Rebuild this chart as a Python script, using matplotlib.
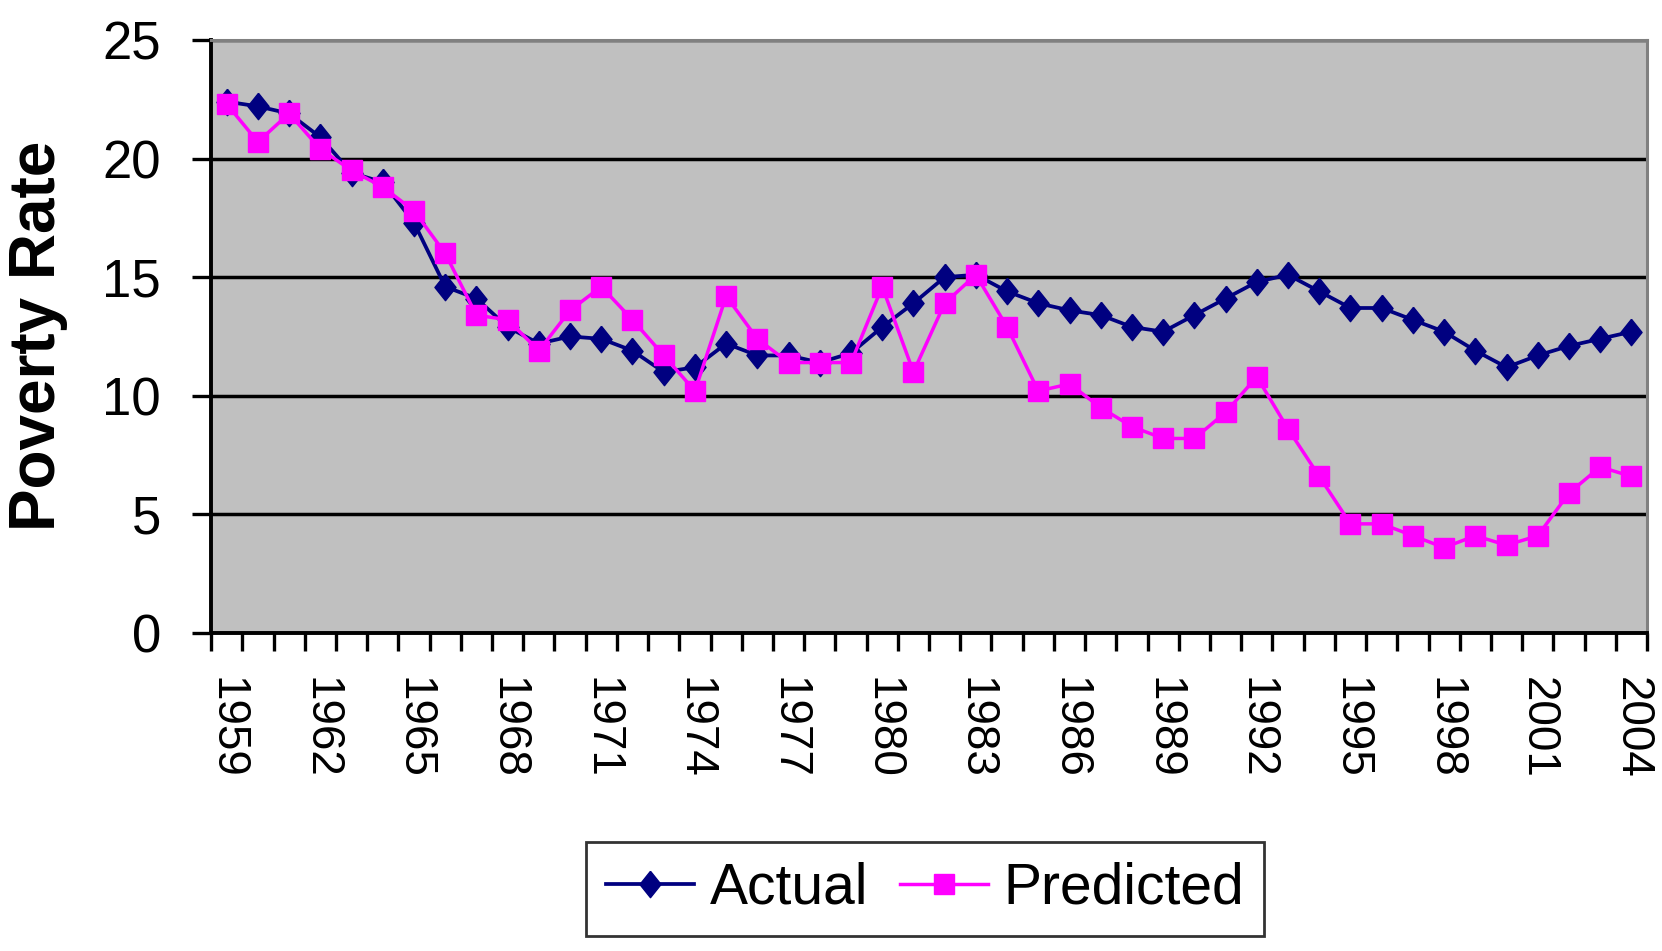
import numpy as np
import matplotlib
matplotlib.use("Agg")
import matplotlib.pyplot as plt
from matplotlib import font_manager

years = list(range(1959, 2005))

actual = [22.4, 22.2, 21.9, 20.9, 19.4, 19.0, 17.3, 14.6, 14.1, 12.9,
          12.2, 12.5, 12.4, 11.9, 11.0, 11.2, 12.2, 11.7, 11.7, 11.4,
          11.8, 12.9, 13.9, 15.0, 15.1, 14.4, 13.9, 13.6, 13.4, 12.9,
          12.7, 13.4, 14.1, 14.8, 15.1, 14.4, 13.7, 13.7, 13.2, 12.7,
          11.9, 11.2, 11.7, 12.1, 12.4, 12.7]

predicted = [22.3, 20.7, 21.9, 20.4, 19.5, 18.8, 17.8, 16.0, 13.4, 13.2,
             11.9, 13.6, 14.6, 13.2, 11.7, 10.2, 14.2, 12.4, 11.4, 11.4,
             11.4, 14.6, 11.0, 13.9, 15.1, 12.9, 10.2, 10.5, 9.5, 8.7,
             8.2, 8.2, 9.3, 10.8, 8.6, 6.6, 4.6, 4.6, 4.1, 3.6,
             4.1, 3.7, 4.1, 5.9, 7.0, 6.6]

yticks = [0, 5, 10, 15, 20, 25]

# narrow face for the legend if we have it
names = {f.name for f in font_manager.fontManager.ttflist}
narrow = "Liberation Sans Narrow" if "Liberation Sans Narrow" in names else "Liberation Sans"
leg_size = 48 if narrow == "Liberation Sans Narrow" else 41
plt.rcParams["font.family"] = "Liberation Sans"

fig = plt.figure(figsize=(16.62, 9.51), dpi=100)
ax = fig.add_axes([0.127, 0.3344, 0.864, 0.6236])
ax.set_facecolor("#C0C0C0")

x = np.arange(len(years))
diamond = [(0, 1), (0.8, 0), (0, -1), (-0.8, 0), (0, 1)]

ax.plot(x, actual, color="#000080", lw=2.7, marker=diamond, ms=19,
        mec="#000080", mfc="#000080", label="Actual", zorder=3, clip_on=False)
ax.plot(x, predicted, color="#FF00FF", lw=2.5, marker="s", ms=15,
        mec="#FF00FF", mfc="#FF00FF", label="Predicted", zorder=4, clip_on=False)

ax.set_xlim(-0.5, len(years) - 0.5)
ax.set_ylim(0, 25)

# y axis
ax.set_yticks(yticks)
ax.tick_params(axis="y", direction="out", length=14, width=2.4, pad=22,
               labelsize=38, color="black")
ax.yaxis.grid(True, color="black", lw=2.5)
ax.set_axisbelow(True)

# x axis: label every third year, tick marks between categories
lab_idx = x[::3]
ax.set_xticks(lab_idx)
ax.set_xticklabels([str(years[i]) for i in lab_idx], rotation=270,
                   va="top", ha="center")
ax.set_xticks(np.arange(-0.5, len(years)), minor=True)
ax.tick_params(axis="x", which="major", length=0, pad=32, labelsize=33)
ax.tick_params(axis="x", which="minor", direction="out", length=13, width=2.4,
               color="black")

for side in ("left", "bottom"):
    ax.spines[side].set_color("black")
    ax.spines[side].set_linewidth(2.8)
for side in ("top", "right"):
    ax.spines[side].set_color("#808080")
    ax.spines[side].set_linewidth(2.2)

fig.text(38 / 1662, 0.647, "Poverty Rate", rotation=90, ha="center",
         va="center", fontsize=46, fontweight="bold")

leg = fig.legend(loc="center", bbox_to_anchor=(0.5566, 0.0652), ncol=2,
                 prop={"family": narrow, "size": leg_size}, numpoints=1,
                 handlelength=1.55, handletextpad=0.28, columnspacing=0.55,
                 borderpad=0.35, fancybox=False, frameon=True)
leg.get_frame().set_edgecolor("black")
leg.get_frame().set_linewidth(2.0)

fig.savefig("out.png", dpi=100)
